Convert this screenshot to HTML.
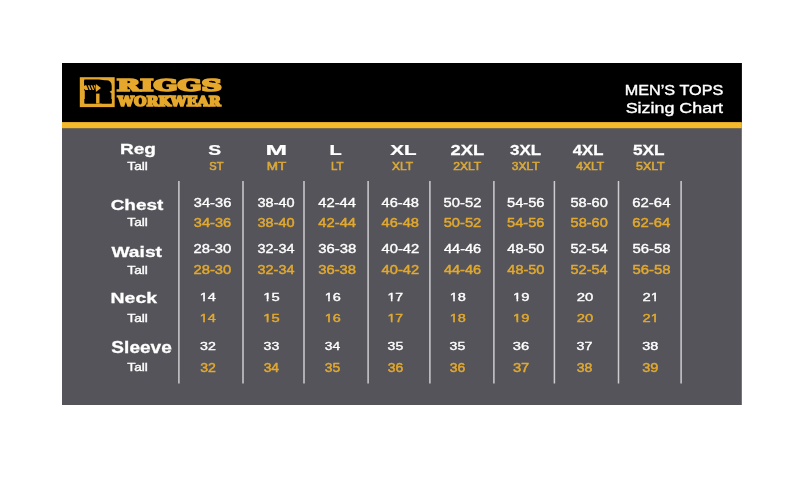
<!DOCTYPE html>
<html lang="en"><head><meta charset="utf-8"><title>Riggs Workwear Men's Tops Sizing Chart</title>
<style>
html,body{margin:0;padding:0;background:#fff;}
body{width:800px;height:495px;overflow:hidden;}
svg{display:block;}
text{white-space:pre;}
</style></head><body>
<svg width="800" height="495" viewBox="0 0 800 495">
<rect width="800" height="495" fill="#ffffff"/>
<rect x="62" y="63" width="679.8" height="342" fill="#55545a"/>
<rect x="62" y="63" width="679.8" height="60" fill="#000000"/>
<rect x="62" y="122.1" width="679.8" height="6.1" fill="#f4b92b"/>
<rect x="178.15" y="181" width="1.5" height="202.5" fill="#cdcdcf"/>
<rect x="242.25" y="181" width="1.5" height="202.5" fill="#cdcdcf"/>
<rect x="303.25" y="181" width="1.5" height="202.5" fill="#cdcdcf"/>
<rect x="367.35" y="181" width="1.5" height="202.5" fill="#cdcdcf"/>
<rect x="429.15" y="181" width="1.5" height="202.5" fill="#cdcdcf"/>
<rect x="493.15" y="181" width="1.5" height="202.5" fill="#cdcdcf"/>
<rect x="553.65" y="181" width="1.5" height="202.5" fill="#cdcdcf"/>
<rect x="617.75" y="181" width="1.5" height="202.5" fill="#cdcdcf"/>
<rect x="680.35" y="181" width="1.5" height="202.5" fill="#cdcdcf"/>
<g id="logo">
<rect x="79.8" y="77.2" width="34.9" height="29.9" fill="#e6a82c"/>
<path d="M84.1 80.2 H106 Q111.7 80.2 111.7 86 V90.4 L109.6 91.8 L111.4 93.2 V103.4 H84.8 V90.4 H84.1 Z" fill="#000"/>
</g>
<g id="title">
<text transform="matrix(1.1535 0 0 1 624.70 94.50)" font-family='"Liberation Sans", sans-serif' font-weight="normal" font-size="14.08" fill="#ffffff" stroke="#ffffff" stroke-width="0.40" stroke-linejoin="miter" stroke-miterlimit="3" vector-effect="non-scaling-stroke">MEN’S TOPS</text>
<text transform="matrix(1.2568 0 0 1 625.68 112.80)" font-family='"Liberation Sans", sans-serif' font-weight="normal" font-size="14.23" fill="#ffffff" stroke="#ffffff" stroke-width="0.40" stroke-linejoin="miter" stroke-miterlimit="3" vector-effect="non-scaling-stroke">Sizing Chart</text>
</g>
<g id="size-header">
<text transform="matrix(1.2524 0 0 1 120.01 154.25)" font-family='"Liberation Sans", sans-serif' font-weight="bold" font-size="15.22" fill="#ffffff" stroke="#ffffff" stroke-width="0.30" stroke-linejoin="miter" stroke-miterlimit="3" vector-effect="non-scaling-stroke">Reg</text>
<text transform="matrix(1.1947 0 0 1 127.33 170.20)" font-family='"Liberation Sans", sans-serif' font-weight="normal" font-size="11.45" fill="#ffffff" stroke="#ffffff" stroke-width="0.40" stroke-linejoin="miter" stroke-miterlimit="3" vector-effect="non-scaling-stroke">Tall</text>
<text transform="matrix(1.3817 0 0 1 208.26 154.95)" font-family='"Liberation Sans", sans-serif' font-weight="bold" font-size="14.00" fill="#ffffff" stroke="#ffffff" stroke-width="0.30" stroke-linejoin="miter" stroke-miterlimit="3" vector-effect="non-scaling-stroke">S</text>
<text transform="matrix(1.8511 0 0 1 265.50 154.95)" font-family='"Liberation Sans", sans-serif' font-weight="bold" font-size="14.00" fill="#ffffff" stroke="#ffffff" stroke-width="0.30" stroke-linejoin="miter" stroke-miterlimit="3" vector-effect="non-scaling-stroke">M</text>
<text transform="matrix(1.4082 0 0 1 329.55 154.95)" font-family='"Liberation Sans", sans-serif' font-weight="bold" font-size="14.20" fill="#ffffff" stroke="#ffffff" stroke-width="0.30" stroke-linejoin="miter" stroke-miterlimit="3" vector-effect="non-scaling-stroke">L</text>
<text transform="matrix(1.4718 0 0 1 390.15 154.95)" font-family='"Liberation Sans", sans-serif' font-weight="bold" font-size="14.00" fill="#ffffff" stroke="#ffffff" stroke-width="0.30" stroke-linejoin="miter" stroke-miterlimit="3" vector-effect="non-scaling-stroke">XL</text>
<text transform="matrix(1.3099 0 0 1 450.60 154.95)" font-family='"Liberation Sans", sans-serif' font-weight="bold" font-size="14.00" fill="#ffffff" stroke="#ffffff" stroke-width="0.30" stroke-linejoin="miter" stroke-miterlimit="3" vector-effect="non-scaling-stroke">2XL</text>
<text transform="matrix(1.2130 0 0 1 510.06 154.95)" font-family='"Liberation Sans", sans-serif' font-weight="bold" font-size="14.00" fill="#ffffff" stroke="#ffffff" stroke-width="0.30" stroke-linejoin="miter" stroke-miterlimit="3" vector-effect="non-scaling-stroke">3XL</text>
<text transform="matrix(1.1943 0 0 1 572.78 154.95)" font-family='"Liberation Sans", sans-serif' font-weight="bold" font-size="14.00" fill="#ffffff" stroke="#ffffff" stroke-width="0.30" stroke-linejoin="miter" stroke-miterlimit="3" vector-effect="non-scaling-stroke">4XL</text>
<text transform="matrix(1.2318 0 0 1 632.88 154.95)" font-family='"Liberation Sans", sans-serif' font-weight="bold" font-size="14.00" fill="#ffffff" stroke="#ffffff" stroke-width="0.30" stroke-linejoin="miter" stroke-miterlimit="3" vector-effect="non-scaling-stroke">5XL</text>
<text transform="matrix(1.0939 0 0 1 209.26 169.80)" font-family='"Liberation Sans", sans-serif' font-weight="normal" font-size="10.14" fill="#d9a83a" stroke="#d9a83a" stroke-width="0.60" stroke-linejoin="miter" stroke-miterlimit="3" vector-effect="non-scaling-stroke">ST</text>
<text transform="matrix(1.2951 0 0 1 266.72 169.80)" font-family='"Liberation Sans", sans-serif' font-weight="normal" font-size="10.43" fill="#d9a83a" stroke="#d9a83a" stroke-width="0.60" stroke-linejoin="miter" stroke-miterlimit="3" vector-effect="non-scaling-stroke">MT</text>
<text transform="matrix(1.1014 0 0 1 330.88 169.80)" font-family='"Liberation Sans", sans-serif' font-weight="normal" font-size="10.43" fill="#d9a83a" stroke="#d9a83a" stroke-width="0.60" stroke-linejoin="miter" stroke-miterlimit="3" vector-effect="non-scaling-stroke">LT</text>
<text transform="matrix(1.1485 0 0 1 391.96 169.80)" font-family='"Liberation Sans", sans-serif' font-weight="normal" font-size="10.43" fill="#d9a83a" stroke="#d9a83a" stroke-width="0.60" stroke-linejoin="miter" stroke-miterlimit="3" vector-effect="non-scaling-stroke">XLT</text>
<text transform="matrix(1.1757 0 0 1 453.20 169.80)" font-family='"Liberation Sans", sans-serif' font-weight="normal" font-size="10.29" fill="#d9a83a" stroke="#d9a83a" stroke-width="0.60" stroke-linejoin="miter" stroke-miterlimit="3" vector-effect="non-scaling-stroke">2XLT</text>
<text transform="matrix(1.1696 0 0 1 511.84 169.80)" font-family='"Liberation Sans", sans-serif' font-weight="normal" font-size="10.29" fill="#d9a83a" stroke="#d9a83a" stroke-width="0.60" stroke-linejoin="miter" stroke-miterlimit="3" vector-effect="non-scaling-stroke">3XLT</text>
<text transform="matrix(1.1730 0 0 1 576.31 169.80)" font-family='"Liberation Sans", sans-serif' font-weight="normal" font-size="10.29" fill="#d9a83a" stroke="#d9a83a" stroke-width="0.60" stroke-linejoin="miter" stroke-miterlimit="3" vector-effect="non-scaling-stroke">4XLT</text>
<text transform="matrix(1.1857 0 0 1 636.06 169.80)" font-family='"Liberation Sans", sans-serif' font-weight="normal" font-size="10.43" fill="#d9a83a" stroke="#d9a83a" stroke-width="0.60" stroke-linejoin="miter" stroke-miterlimit="3" vector-effect="non-scaling-stroke">5XLT</text>
</g>
<g id="row-labels">
<text transform="matrix(1.2274 0 0 1 110.69 209.55)" font-family='"Liberation Sans", sans-serif' font-weight="bold" font-size="15.43" fill="#ffffff" stroke="#ffffff" stroke-width="0.30" stroke-linejoin="miter" stroke-miterlimit="3" vector-effect="non-scaling-stroke">Chest</text>
<text transform="matrix(1.1947 0 0 1 127.33 226.20)" font-family='"Liberation Sans", sans-serif' font-weight="normal" font-size="11.45" fill="#ffffff" stroke="#ffffff" stroke-width="0.40" stroke-linejoin="miter" stroke-miterlimit="3" vector-effect="non-scaling-stroke">Tall</text>
<text transform="matrix(1.2633 0 0 1 111.45 256.75)" font-family='"Liberation Sans", sans-serif' font-weight="bold" font-size="15.22" fill="#ffffff" stroke="#ffffff" stroke-width="0.30" stroke-linejoin="miter" stroke-miterlimit="3" vector-effect="non-scaling-stroke">Waist</text>
<text transform="matrix(1.1947 0 0 1 127.33 273.90)" font-family='"Liberation Sans", sans-serif' font-weight="normal" font-size="11.45" fill="#ffffff" stroke="#ffffff" stroke-width="0.40" stroke-linejoin="miter" stroke-miterlimit="3" vector-effect="non-scaling-stroke">Tall</text>
<text transform="matrix(1.2965 0 0 1 110.58 303.25)" font-family='"Liberation Sans", sans-serif' font-weight="bold" font-size="15.00" fill="#ffffff" stroke="#ffffff" stroke-width="0.30" stroke-linejoin="miter" stroke-miterlimit="3" vector-effect="non-scaling-stroke">Neck</text>
<text transform="matrix(1.1947 0 0 1 127.33 321.90)" font-family='"Liberation Sans", sans-serif' font-weight="normal" font-size="11.45" fill="#ffffff" stroke="#ffffff" stroke-width="0.40" stroke-linejoin="miter" stroke-miterlimit="3" vector-effect="non-scaling-stroke">Tall</text>
<text transform="matrix(1.2143 0 0 1 111.37 353.25)" font-family='"Liberation Sans", sans-serif' font-weight="bold" font-size="15.71" fill="#ffffff" stroke="#ffffff" stroke-width="0.30" stroke-linejoin="miter" stroke-miterlimit="3" vector-effect="non-scaling-stroke">Sleeve</text>
<text transform="matrix(1.1947 0 0 1 127.33 371.40)" font-family='"Liberation Sans", sans-serif' font-weight="normal" font-size="11.45" fill="#ffffff" stroke="#ffffff" stroke-width="0.40" stroke-linejoin="miter" stroke-miterlimit="3" vector-effect="non-scaling-stroke">Tall</text>
</g>
<g id="chest-waist-values">
<text transform="matrix(1.2098 0 0 1 193.76 206.60)" font-family='"Liberation Sans", sans-serif' font-weight="normal" font-size="12.14" fill="#ffffff" stroke="#ffffff" stroke-width="0.40" stroke-linejoin="miter" stroke-miterlimit="3" vector-effect="non-scaling-stroke">34-36</text>
<text transform="matrix(1.1394 0 0 1 193.81 227.15)" font-family='"Liberation Sans", sans-serif' font-weight="normal" font-size="12.86" fill="#e2a930" stroke="#e2a930" stroke-width="0.50" stroke-linejoin="miter" stroke-miterlimit="3" vector-effect="non-scaling-stroke">34-36</text>
<text transform="matrix(1.1949 0 0 1 257.51 206.60)" font-family='"Liberation Sans", sans-serif' font-weight="normal" font-size="12.14" fill="#ffffff" stroke="#ffffff" stroke-width="0.40" stroke-linejoin="miter" stroke-miterlimit="3" vector-effect="non-scaling-stroke">38-40</text>
<text transform="matrix(1.1254 0 0 1 257.57 227.15)" font-family='"Liberation Sans", sans-serif' font-weight="normal" font-size="12.86" fill="#e2a930" stroke="#e2a930" stroke-width="0.50" stroke-linejoin="miter" stroke-miterlimit="3" vector-effect="non-scaling-stroke">38-40</text>
<text transform="matrix(1.2165 0 0 1 318.30 206.60)" font-family='"Liberation Sans", sans-serif' font-weight="normal" font-size="12.14" fill="#ffffff" stroke="#ffffff" stroke-width="0.40" stroke-linejoin="miter" stroke-miterlimit="3" vector-effect="non-scaling-stroke">42-44</text>
<text transform="matrix(1.1459 0 0 1 318.36 227.15)" font-family='"Liberation Sans", sans-serif' font-weight="normal" font-size="12.86" fill="#e2a930" stroke="#e2a930" stroke-width="0.50" stroke-linejoin="miter" stroke-miterlimit="3" vector-effect="non-scaling-stroke">42-44</text>
<text transform="matrix(1.2082 0 0 1 381.51 206.60)" font-family='"Liberation Sans", sans-serif' font-weight="normal" font-size="12.14" fill="#ffffff" stroke="#ffffff" stroke-width="0.40" stroke-linejoin="miter" stroke-miterlimit="3" vector-effect="non-scaling-stroke">46-48</text>
<text transform="matrix(1.1380 0 0 1 381.56 227.15)" font-family='"Liberation Sans", sans-serif' font-weight="normal" font-size="12.86" fill="#e2a930" stroke="#e2a930" stroke-width="0.50" stroke-linejoin="miter" stroke-miterlimit="3" vector-effect="non-scaling-stroke">46-48</text>
<text transform="matrix(1.2162 0 0 1 443.61 206.60)" font-family='"Liberation Sans", sans-serif' font-weight="normal" font-size="12.14" fill="#ffffff" stroke="#ffffff" stroke-width="0.40" stroke-linejoin="miter" stroke-miterlimit="3" vector-effect="non-scaling-stroke">50-52</text>
<text transform="matrix(1.1455 0 0 1 443.66 227.15)" font-family='"Liberation Sans", sans-serif' font-weight="normal" font-size="12.86" fill="#e2a930" stroke="#e2a930" stroke-width="0.50" stroke-linejoin="miter" stroke-miterlimit="3" vector-effect="non-scaling-stroke">50-52</text>
<text transform="matrix(1.2047 0 0 1 507.01 206.60)" font-family='"Liberation Sans", sans-serif' font-weight="normal" font-size="12.14" fill="#ffffff" stroke="#ffffff" stroke-width="0.40" stroke-linejoin="miter" stroke-miterlimit="3" vector-effect="non-scaling-stroke">54-56</text>
<text transform="matrix(1.1346 0 0 1 507.07 227.15)" font-family='"Liberation Sans", sans-serif' font-weight="normal" font-size="12.86" fill="#e2a930" stroke="#e2a930" stroke-width="0.50" stroke-linejoin="miter" stroke-miterlimit="3" vector-effect="non-scaling-stroke">54-56</text>
<text transform="matrix(1.2014 0 0 1 570.52 206.60)" font-family='"Liberation Sans", sans-serif' font-weight="normal" font-size="12.14" fill="#ffffff" stroke="#ffffff" stroke-width="0.40" stroke-linejoin="miter" stroke-miterlimit="3" vector-effect="non-scaling-stroke">58-60</text>
<text transform="matrix(1.1315 0 0 1 570.57 227.15)" font-family='"Liberation Sans", sans-serif' font-weight="normal" font-size="12.86" fill="#e2a930" stroke="#e2a930" stroke-width="0.50" stroke-linejoin="miter" stroke-miterlimit="3" vector-effect="non-scaling-stroke">58-60</text>
<text transform="matrix(1.2312 0 0 1 632.25 206.60)" font-family='"Liberation Sans", sans-serif' font-weight="normal" font-size="12.14" fill="#ffffff" stroke="#ffffff" stroke-width="0.40" stroke-linejoin="miter" stroke-miterlimit="3" vector-effect="non-scaling-stroke">62-64</text>
<text transform="matrix(1.1597 0 0 1 632.30 227.15)" font-family='"Liberation Sans", sans-serif' font-weight="normal" font-size="12.86" fill="#e2a930" stroke="#e2a930" stroke-width="0.50" stroke-linejoin="miter" stroke-miterlimit="3" vector-effect="non-scaling-stroke">62-64</text>
<text transform="matrix(1.2054 0 0 1 193.46 252.70)" font-family='"Liberation Sans", sans-serif' font-weight="normal" font-size="12.29" fill="#ffffff" stroke="#ffffff" stroke-width="0.40" stroke-linejoin="miter" stroke-miterlimit="3" vector-effect="non-scaling-stroke">28-30</text>
<text transform="matrix(1.1616 0 0 1 193.51 273.55)" font-family='"Liberation Sans", sans-serif' font-weight="normal" font-size="12.71" fill="#e2a930" stroke="#e2a930" stroke-width="0.50" stroke-linejoin="miter" stroke-miterlimit="3" vector-effect="non-scaling-stroke">28-30</text>
<text transform="matrix(1.1763 0 0 1 257.52 252.70)" font-family='"Liberation Sans", sans-serif' font-weight="normal" font-size="12.29" fill="#ffffff" stroke="#ffffff" stroke-width="0.40" stroke-linejoin="miter" stroke-miterlimit="3" vector-effect="non-scaling-stroke">32-34</text>
<text transform="matrix(1.1335 0 0 1 257.57 273.55)" font-family='"Liberation Sans", sans-serif' font-weight="normal" font-size="12.71" fill="#e2a930" stroke="#e2a930" stroke-width="0.50" stroke-linejoin="miter" stroke-miterlimit="3" vector-effect="non-scaling-stroke">32-34</text>
<text transform="matrix(1.2120 0 0 1 318.15 252.70)" font-family='"Liberation Sans", sans-serif' font-weight="normal" font-size="12.29" fill="#ffffff" stroke="#ffffff" stroke-width="0.40" stroke-linejoin="miter" stroke-miterlimit="3" vector-effect="non-scaling-stroke">36-38</text>
<text transform="matrix(1.1680 0 0 1 318.20 273.55)" font-family='"Liberation Sans", sans-serif' font-weight="normal" font-size="12.71" fill="#e2a930" stroke="#e2a930" stroke-width="0.50" stroke-linejoin="miter" stroke-miterlimit="3" vector-effect="non-scaling-stroke">36-38</text>
<text transform="matrix(1.1990 0 0 1 381.51 252.70)" font-family='"Liberation Sans", sans-serif' font-weight="normal" font-size="12.29" fill="#ffffff" stroke="#ffffff" stroke-width="0.40" stroke-linejoin="miter" stroke-miterlimit="3" vector-effect="non-scaling-stroke">40-42</text>
<text transform="matrix(1.1554 0 0 1 381.56 273.55)" font-family='"Liberation Sans", sans-serif' font-weight="normal" font-size="12.71" fill="#e2a930" stroke="#e2a930" stroke-width="0.50" stroke-linejoin="miter" stroke-miterlimit="3" vector-effect="non-scaling-stroke">40-42</text>
<text transform="matrix(1.1877 0 0 1 443.91 252.70)" font-family='"Liberation Sans", sans-serif' font-weight="normal" font-size="12.29" fill="#ffffff" stroke="#ffffff" stroke-width="0.40" stroke-linejoin="miter" stroke-miterlimit="3" vector-effect="non-scaling-stroke">44-46</text>
<text transform="matrix(1.1445 0 0 1 443.96 273.55)" font-family='"Liberation Sans", sans-serif' font-weight="normal" font-size="12.71" fill="#e2a930" stroke="#e2a930" stroke-width="0.50" stroke-linejoin="miter" stroke-miterlimit="3" vector-effect="non-scaling-stroke">44-46</text>
<text transform="matrix(1.1812 0 0 1 507.31 252.70)" font-family='"Liberation Sans", sans-serif' font-weight="normal" font-size="12.29" fill="#ffffff" stroke="#ffffff" stroke-width="0.40" stroke-linejoin="miter" stroke-miterlimit="3" vector-effect="non-scaling-stroke">48-50</text>
<text transform="matrix(1.1382 0 0 1 507.36 273.55)" font-family='"Liberation Sans", sans-serif' font-weight="normal" font-size="12.71" fill="#e2a930" stroke="#e2a930" stroke-width="0.50" stroke-linejoin="miter" stroke-miterlimit="3" vector-effect="non-scaling-stroke">48-50</text>
<text transform="matrix(1.1826 0 0 1 570.52 252.70)" font-family='"Liberation Sans", sans-serif' font-weight="normal" font-size="12.29" fill="#ffffff" stroke="#ffffff" stroke-width="0.40" stroke-linejoin="miter" stroke-miterlimit="3" vector-effect="non-scaling-stroke">52-54</text>
<text transform="matrix(1.1396 0 0 1 570.57 273.55)" font-family='"Liberation Sans", sans-serif' font-weight="normal" font-size="12.71" fill="#e2a930" stroke="#e2a930" stroke-width="0.50" stroke-linejoin="miter" stroke-miterlimit="3" vector-effect="non-scaling-stroke">52-54</text>
<text transform="matrix(1.2169 0 0 1 632.40 252.70)" font-family='"Liberation Sans", sans-serif' font-weight="normal" font-size="12.29" fill="#ffffff" stroke="#ffffff" stroke-width="0.40" stroke-linejoin="miter" stroke-miterlimit="3" vector-effect="non-scaling-stroke">56-58</text>
<text transform="matrix(1.1727 0 0 1 632.45 273.55)" font-family='"Liberation Sans", sans-serif' font-weight="normal" font-size="12.71" fill="#e2a930" stroke="#e2a930" stroke-width="0.50" stroke-linejoin="miter" stroke-miterlimit="3" vector-effect="non-scaling-stroke">56-58</text>
</g>
<g id="neck-sleeve-values">
<text transform="matrix(1.2666 0 0 1 199.68 300.70)" font-family='"Liberation Sans", sans-serif' font-weight="normal" font-size="11.57" fill="#ffffff" stroke="#ffffff" stroke-width="0.40" stroke-linejoin="miter" stroke-miterlimit="3" vector-effect="non-scaling-stroke">14</text>
<text transform="matrix(1.2426 0 0 1 199.74 322.35)" font-family='"Liberation Sans", sans-serif' font-weight="normal" font-size="11.71" fill="#e2a930" stroke="#e2a930" stroke-width="0.50" stroke-linejoin="miter" stroke-miterlimit="3" vector-effect="non-scaling-stroke">14</text>
<text transform="matrix(1.2795 0 0 1 263.17 300.70)" font-family='"Liberation Sans", sans-serif' font-weight="normal" font-size="11.57" fill="#ffffff" stroke="#ffffff" stroke-width="0.40" stroke-linejoin="miter" stroke-miterlimit="3" vector-effect="non-scaling-stroke">15</text>
<text transform="matrix(1.2552 0 0 1 263.23 322.35)" font-family='"Liberation Sans", sans-serif' font-weight="normal" font-size="11.71" fill="#e2a930" stroke="#e2a930" stroke-width="0.50" stroke-linejoin="miter" stroke-miterlimit="3" vector-effect="non-scaling-stroke">15</text>
<text transform="matrix(1.2532 0 0 1 324.69 300.70)" font-family='"Liberation Sans", sans-serif' font-weight="normal" font-size="11.57" fill="#ffffff" stroke="#ffffff" stroke-width="0.40" stroke-linejoin="miter" stroke-miterlimit="3" vector-effect="non-scaling-stroke">16</text>
<text transform="matrix(1.2292 0 0 1 324.75 322.35)" font-family='"Liberation Sans", sans-serif' font-weight="normal" font-size="11.71" fill="#e2a930" stroke="#e2a930" stroke-width="0.50" stroke-linejoin="miter" stroke-miterlimit="3" vector-effect="non-scaling-stroke">16</text>
<text transform="matrix(1.2129 0 0 1 387.54 300.70)" font-family='"Liberation Sans", sans-serif' font-weight="normal" font-size="11.57" fill="#ffffff" stroke="#ffffff" stroke-width="0.40" stroke-linejoin="miter" stroke-miterlimit="3" vector-effect="non-scaling-stroke">17</text>
<text transform="matrix(1.1894 0 0 1 387.60 322.35)" font-family='"Liberation Sans", sans-serif' font-weight="normal" font-size="11.71" fill="#e2a930" stroke="#e2a930" stroke-width="0.50" stroke-linejoin="miter" stroke-miterlimit="3" vector-effect="non-scaling-stroke">17</text>
<text transform="matrix(1.2619 0 0 1 449.69 300.70)" font-family='"Liberation Sans", sans-serif' font-weight="normal" font-size="11.57" fill="#ffffff" stroke="#ffffff" stroke-width="0.40" stroke-linejoin="miter" stroke-miterlimit="3" vector-effect="non-scaling-stroke">18</text>
<text transform="matrix(1.2379 0 0 1 449.74 322.35)" font-family='"Liberation Sans", sans-serif' font-weight="normal" font-size="11.71" fill="#e2a930" stroke="#e2a930" stroke-width="0.50" stroke-linejoin="miter" stroke-miterlimit="3" vector-effect="non-scaling-stroke">18</text>
<text transform="matrix(1.2749 0 0 1 512.97 300.70)" font-family='"Liberation Sans", sans-serif' font-weight="normal" font-size="11.57" fill="#ffffff" stroke="#ffffff" stroke-width="0.40" stroke-linejoin="miter" stroke-miterlimit="3" vector-effect="non-scaling-stroke">19</text>
<text transform="matrix(1.2506 0 0 1 513.03 322.35)" font-family='"Liberation Sans", sans-serif' font-weight="normal" font-size="11.71" fill="#e2a930" stroke="#e2a930" stroke-width="0.50" stroke-linejoin="miter" stroke-miterlimit="3" vector-effect="non-scaling-stroke">19</text>
<text transform="matrix(1.2885 0 0 1 576.65 300.70)" font-family='"Liberation Sans", sans-serif' font-weight="normal" font-size="11.57" fill="#ffffff" stroke="#ffffff" stroke-width="0.40" stroke-linejoin="miter" stroke-miterlimit="3" vector-effect="non-scaling-stroke">20</text>
<text transform="matrix(1.2645 0 0 1 576.71 322.35)" font-family='"Liberation Sans", sans-serif' font-weight="normal" font-size="11.71" fill="#e2a930" stroke="#e2a930" stroke-width="0.50" stroke-linejoin="miter" stroke-miterlimit="3" vector-effect="non-scaling-stroke">20</text>
<text transform="matrix(1.2831 0 0 1 642.46 300.70)" font-family='"Liberation Sans", sans-serif' font-weight="normal" font-size="11.57" fill="#ffffff" stroke="#ffffff" stroke-width="0.40" stroke-linejoin="miter" stroke-miterlimit="3" vector-effect="non-scaling-stroke">21</text>
<text transform="matrix(1.2573 0 0 1 642.51 322.35)" font-family='"Liberation Sans", sans-serif' font-weight="normal" font-size="11.71" fill="#e2a930" stroke="#e2a930" stroke-width="0.50" stroke-linejoin="miter" stroke-miterlimit="3" vector-effect="non-scaling-stroke">21</text>
<text transform="matrix(1.2111 0 0 1 200.07 349.60)" font-family='"Liberation Sans", sans-serif' font-weight="normal" font-size="11.71" fill="#ffffff" stroke="#ffffff" stroke-width="0.40" stroke-linejoin="miter" stroke-miterlimit="3" vector-effect="non-scaling-stroke">32</text>
<text transform="matrix(1.1884 0 0 1 200.13 371.95)" font-family='"Liberation Sans", sans-serif' font-weight="normal" font-size="11.86" fill="#e2a930" stroke="#e2a930" stroke-width="0.50" stroke-linejoin="miter" stroke-miterlimit="3" vector-effect="non-scaling-stroke">32</text>
<text transform="matrix(1.2077 0 0 1 263.58 349.60)" font-family='"Liberation Sans", sans-serif' font-weight="normal" font-size="11.71" fill="#ffffff" stroke="#ffffff" stroke-width="0.40" stroke-linejoin="miter" stroke-miterlimit="3" vector-effect="non-scaling-stroke">33</text>
<text transform="matrix(1.1738 0 0 1 263.63 371.95)" font-family='"Liberation Sans", sans-serif' font-weight="normal" font-size="11.86" fill="#e2a930" stroke="#e2a930" stroke-width="0.50" stroke-linejoin="miter" stroke-miterlimit="3" vector-effect="non-scaling-stroke">34</text>
<text transform="matrix(1.1801 0 0 1 324.79 349.60)" font-family='"Liberation Sans", sans-serif' font-weight="normal" font-size="11.71" fill="#ffffff" stroke="#ffffff" stroke-width="0.40" stroke-linejoin="miter" stroke-miterlimit="3" vector-effect="non-scaling-stroke">34</text>
<text transform="matrix(1.1689 0 0 1 324.83 371.95)" font-family='"Liberation Sans", sans-serif' font-weight="normal" font-size="11.86" fill="#e2a930" stroke="#e2a930" stroke-width="0.50" stroke-linejoin="miter" stroke-miterlimit="3" vector-effect="non-scaling-stroke">35</text>
<text transform="matrix(1.1995 0 0 1 387.58 349.60)" font-family='"Liberation Sans", sans-serif' font-weight="normal" font-size="11.71" fill="#ffffff" stroke="#ffffff" stroke-width="0.40" stroke-linejoin="miter" stroke-miterlimit="3" vector-effect="non-scaling-stroke">35</text>
<text transform="matrix(1.1770 0 0 1 387.63 371.95)" font-family='"Liberation Sans", sans-serif' font-weight="normal" font-size="11.86" fill="#e2a930" stroke="#e2a930" stroke-width="0.50" stroke-linejoin="miter" stroke-miterlimit="3" vector-effect="non-scaling-stroke">36</text>
<text transform="matrix(1.1995 0 0 1 449.58 349.60)" font-family='"Liberation Sans", sans-serif' font-weight="normal" font-size="11.71" fill="#ffffff" stroke="#ffffff" stroke-width="0.40" stroke-linejoin="miter" stroke-miterlimit="3" vector-effect="non-scaling-stroke">35</text>
<text transform="matrix(1.1770 0 0 1 449.63 371.95)" font-family='"Liberation Sans", sans-serif' font-weight="normal" font-size="11.86" fill="#e2a930" stroke="#e2a930" stroke-width="0.50" stroke-linejoin="miter" stroke-miterlimit="3" vector-effect="non-scaling-stroke">36</text>
<text transform="matrix(1.2566 0 0 1 512.86 349.60)" font-family='"Liberation Sans", sans-serif' font-weight="normal" font-size="11.71" fill="#ffffff" stroke="#ffffff" stroke-width="0.40" stroke-linejoin="miter" stroke-miterlimit="3" vector-effect="non-scaling-stroke">36</text>
<text transform="matrix(1.2453 0 0 1 512.91 371.95)" font-family='"Liberation Sans", sans-serif' font-weight="normal" font-size="11.86" fill="#e2a930" stroke="#e2a930" stroke-width="0.50" stroke-linejoin="miter" stroke-miterlimit="3" vector-effect="non-scaling-stroke">37</text>
<text transform="matrix(1.2193 0 0 1 576.57 349.60)" font-family='"Liberation Sans", sans-serif' font-weight="normal" font-size="11.71" fill="#ffffff" stroke="#ffffff" stroke-width="0.40" stroke-linejoin="miter" stroke-miterlimit="3" vector-effect="non-scaling-stroke">37</text>
<text transform="matrix(1.1851 0 0 1 576.63 371.95)" font-family='"Liberation Sans", sans-serif' font-weight="normal" font-size="11.86" fill="#e2a930" stroke="#e2a930" stroke-width="0.50" stroke-linejoin="miter" stroke-miterlimit="3" vector-effect="non-scaling-stroke">38</text>
<text transform="matrix(1.2403 0 0 1 642.16 349.60)" font-family='"Liberation Sans", sans-serif' font-weight="normal" font-size="11.71" fill="#ffffff" stroke="#ffffff" stroke-width="0.40" stroke-linejoin="miter" stroke-miterlimit="3" vector-effect="non-scaling-stroke">38</text>
<text transform="matrix(1.2291 0 0 1 642.21 371.95)" font-family='"Liberation Sans", sans-serif' font-weight="normal" font-size="11.86" fill="#e2a930" stroke="#e2a930" stroke-width="0.50" stroke-linejoin="miter" stroke-miterlimit="3" vector-effect="non-scaling-stroke">39</text>
</g>
<g id="brand">
<text transform="matrix(1.1337 0 0 1 84.47 101.70)" font-family='"DejaVu Serif", "Liberation Serif", serif' font-weight="bold" font-size="27.12" fill="#000000" stroke="#000000" stroke-width="3.00" stroke-linejoin="miter" stroke-miterlimit="3" vector-effect="non-scaling-stroke">R</text>
<text transform="matrix(1.7741 0 0 1 116.87 91.25)" font-family='"DejaVu Serif", "Liberation Serif", serif' font-weight="bold" font-size="15.88" fill="#e6a82c" stroke="#e6a82c" stroke-width="2.50" stroke-linejoin="miter" stroke-miterlimit="3" vector-effect="non-scaling-stroke">RIGGS</text>
<text transform="matrix(1.1699 0 0 1 117.79 106.40)" font-family='"DejaVu Serif", "Liberation Serif", serif' font-weight="bold" font-size="12.30" fill="#e6a82c" stroke="#e6a82c" stroke-width="1.80" stroke-linejoin="miter" stroke-miterlimit="3" vector-effect="non-scaling-stroke">WORKWEAR</text>
</g>
<g id="trim"><rect x="199.70" y="299.04" width="3.45" height="3.46" fill="#55545a"/><rect x="204.88" y="299.04" width="3.03" height="3.46" fill="#55545a"/>
<rect x="199.70" y="320.62" width="3.43" height="3.58" fill="#55545a"/><rect x="204.96" y="320.62" width="3.02" height="3.58" fill="#55545a"/>
<rect x="263.19" y="299.04" width="3.48" height="3.46" fill="#55545a"/><rect x="268.42" y="299.04" width="3.06" height="3.46" fill="#55545a"/>
<rect x="263.20" y="320.62" width="3.46" height="3.58" fill="#55545a"/><rect x="268.49" y="320.62" width="3.04" height="3.58" fill="#55545a"/>
<rect x="324.70" y="299.04" width="3.42" height="3.46" fill="#55545a"/><rect x="329.84" y="299.04" width="3.01" height="3.46" fill="#55545a"/>
<rect x="324.70" y="320.62" width="3.40" height="3.58" fill="#55545a"/><rect x="329.92" y="320.62" width="2.99" height="3.58" fill="#55545a"/>
<rect x="387.51" y="299.04" width="3.34" height="3.46" fill="#55545a"/><rect x="392.53" y="299.04" width="2.93" height="3.46" fill="#55545a"/>
<rect x="387.51" y="320.62" width="3.32" height="3.58" fill="#55545a"/><rect x="392.60" y="320.62" width="2.91" height="3.58" fill="#55545a"/>
<rect x="449.70" y="299.04" width="3.44" height="3.46" fill="#55545a"/><rect x="454.87" y="299.04" width="3.03" height="3.46" fill="#55545a"/>
<rect x="449.70" y="320.62" width="3.42" height="3.58" fill="#55545a"/><rect x="454.94" y="320.62" width="3.01" height="3.58" fill="#55545a"/>
<rect x="513.00" y="299.04" width="3.47" height="3.46" fill="#55545a"/><rect x="518.21" y="299.04" width="3.05" height="3.46" fill="#55545a"/>
<rect x="513.00" y="320.62" width="3.45" height="3.58" fill="#55545a"/><rect x="518.28" y="320.62" width="3.03" height="3.58" fill="#55545a"/>
<rect x="650.75" y="299.04" width="3.48" height="3.46" fill="#55545a"/><rect x="655.98" y="299.04" width="3.07" height="3.46" fill="#55545a"/>
<rect x="650.68" y="320.62" width="3.46" height="3.58" fill="#55545a"/><rect x="655.98" y="320.62" width="3.05" height="3.58" fill="#55545a"/></g>
<g>
<g id="screw" fill="#e6a82c">
<rect x="96.1" y="93.6" width="3.4" height="10"/>
<polygon points="95.9,84.0 101.0,88.0 95.9,92.0"/>
<polygon points="83.5,86.2 85.2,85.2 86.4,85.2 88.4,89.9 85.6,89.9 83.5,88.6"/>
<polygon points="87.7,85.2 89.3,85.2 91.3,89.9 89.7,89.9"/>
<polygon points="90.6,85.2 92.2,85.2 94.2,89.9 92.6,89.9"/>
<polygon points="93.5,85.2 95.0,85.2 95.4,86.4 95.4,89.9 95.3,89.9"/>
</g>
</g>

</svg>
</body></html>
